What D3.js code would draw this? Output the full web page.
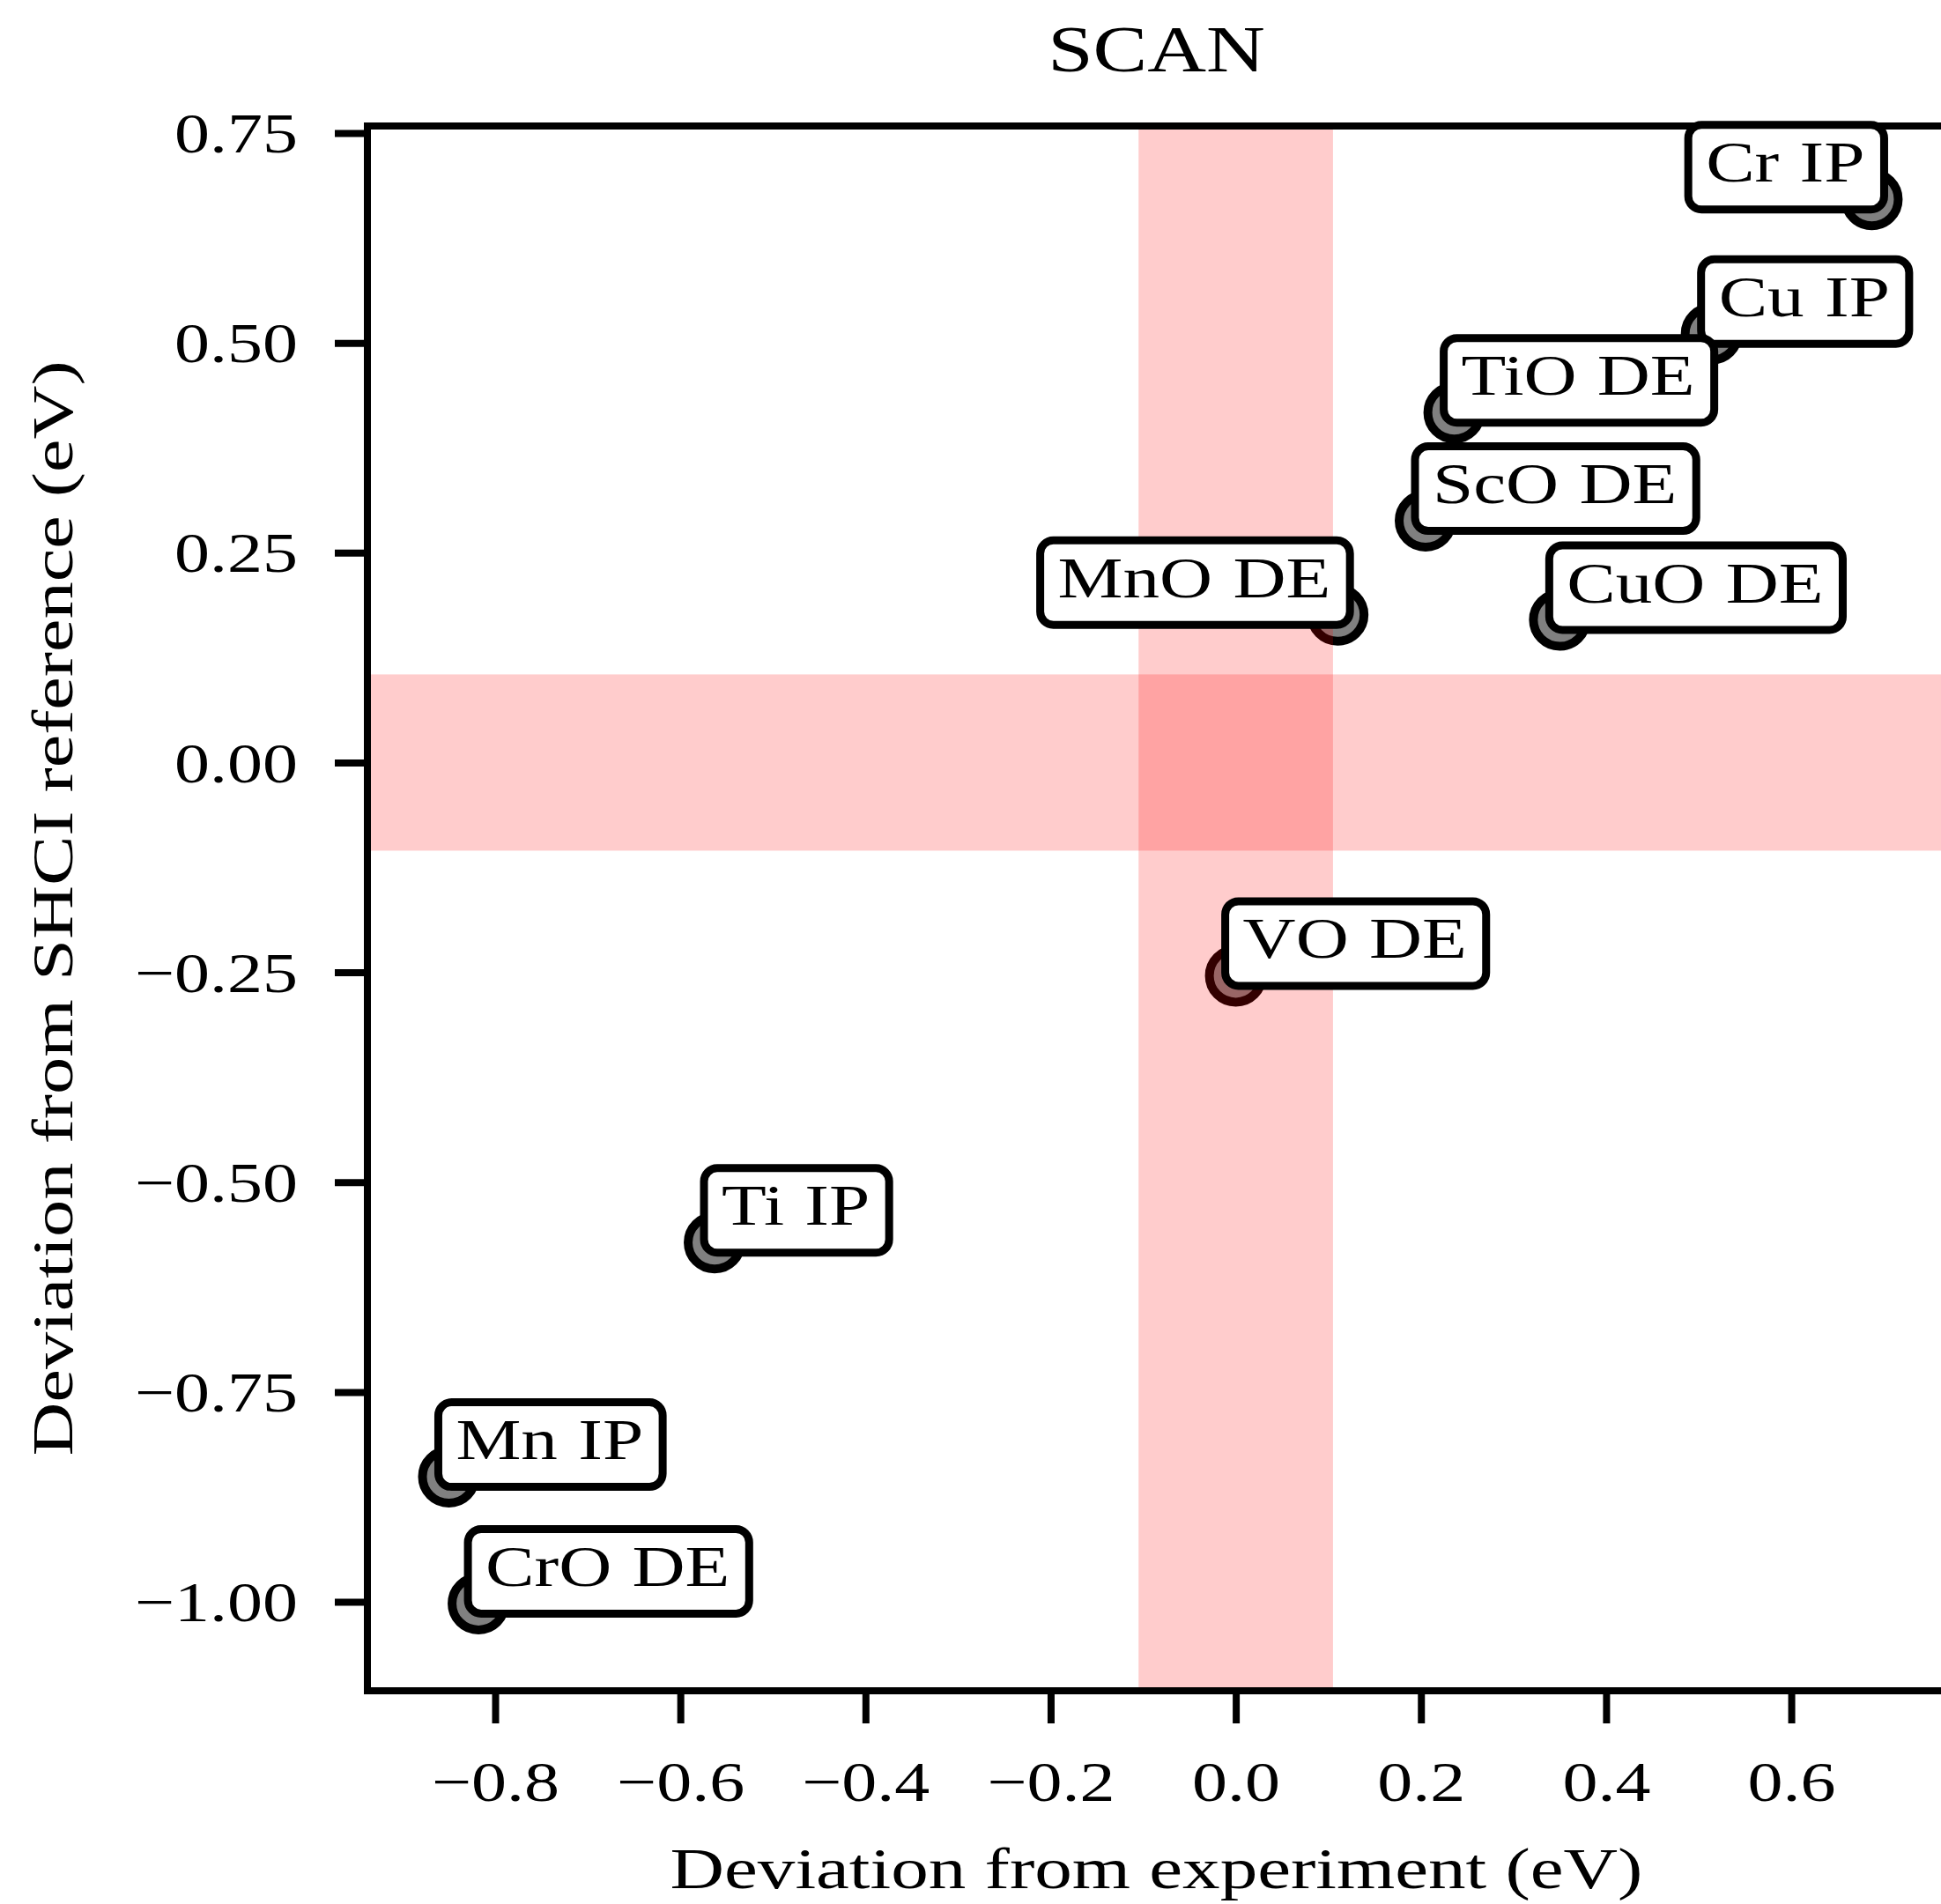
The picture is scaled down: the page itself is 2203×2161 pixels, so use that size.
<!DOCTYPE html>
<html>
<head>
<meta charset="utf-8">
<script src="https://cdn.jsdelivr.net/npm/d3@7"></script>
<style>
  body { margin: 0; background: #fff; }
  text { font-family: "Liberation Serif", "Times New Roman", serif; fill: #000; }
</style>
</head>
<body>
<svg id="chart" width="2203" height="2161"></svg>
<script>
// Systems and their SCAN deviations (eV)
const systems    = ["Cr IP", "Cu IP", "TiO DE", "ScO DE", "MnO DE", "CuO DE", "VO DE", "Ti IP", "Mn IP", "CrO DE"];
const devExp     = [0.687, 0.514, 0.236, 0.205, 0.110, 0.350, 0.000, -0.563, -0.850, -0.818];
const devSHCI    = [0.671, 0.511, 0.417, 0.288, 0.176, 0.170, -0.254, -0.572, -0.851, -1.002];
const labelSide  = ["left", "right", "right", "right", "left", "right", "right", "right", "right", "right"];

const xTicks = [-0.8, -0.6, -0.4, -0.2, 0.0, 0.2, 0.4, 0.6];
const yTicks = [0.75, 0.50, 0.25, 0.00, -0.25, -0.50, -0.75, -1.00];
const xDomain = [-0.938, 0.7665];
const yDomain = [-1.106, 0.7584];
const accuracyBand = 0.105;   // shaded window around zero on both axes

const titleText = "SCAN";
const xLabel = "Deviation from experiment (eV)";
const yLabel = "Deviation from SHCI reference (eV)";

// ---- layout ----
const plot = { left: 417, right: 2208, top: 143, bottom: 1919 };
const K = 1.25;             // horizontal widening of the serif glyphs
const svg = d3.select("#chart");

svg.append("rect").attr("width", 2203).attr("height", 2161).attr("fill", "#fff");

const x = d3.scaleLinear().domain(xDomain).range([plot.left, plot.right]);
const y = d3.scaleLinear().domain(yDomain).range([plot.bottom, plot.top]);

function wideText(g, px, py, str, size, anchor, rot, k = K) {
  return g.append("text")
    .attr("transform", `translate(${px},${py})${rot ? ` rotate(${rot})` : ""} scale(${k},1)`)
    .attr("font-size", size)
    .attr("text-anchor", anchor)
    .text(str);
}

const data = systems.map((name, i) => ({ name, dx: devExp[i], dy: devSHCI[i], side: labelSide[i] }));

// ---- markers ----
const gPts = svg.append("g");
gPts.selectAll("circle").data(data).join("circle")
  .attr("cx", d => x(d.dx))
  .attr("cy", d => y(d.dy))
  .attr("r", 30)
  .attr("fill", "#808080")
  .attr("stroke", "#000")
  .attr("stroke-width", 10);

// ---- shaded accuracy windows (drawn over the markers, translucent) ----
const gBand = svg.append("g");
gBand.append("rect")
  .attr("x", x(-accuracyBand)).attr("width", x(accuracyBand) - x(-accuracyBand))
  .attr("y", plot.top).attr("height", plot.bottom - plot.top)
  .attr("fill", "red").attr("fill-opacity", 0.2);
gBand.append("rect")
  .attr("x", plot.left).attr("width", plot.right - plot.left)
  .attr("y", y(accuracyBand)).attr("height", y(-accuracyBand) - y(accuracyBand))
  .attr("fill", "red").attr("fill-opacity", 0.2);

// ---- axes ----
const tickLen = 37;
const gx = svg.append("g").attr("transform", `translate(0,${plot.bottom})`)
  .call(d3.axisBottom(x).tickValues(xTicks).tickFormat(d3.format(".1f")).tickSize(tickLen));
gx.select(".domain").remove();
gx.selectAll(".tick line").attr("stroke", "#000").attr("stroke-width", 8);
gx.selectAll(".tick text")
  .attr("y", null).attr("dy", null)
  .attr("transform", `translate(0,125) scale(${K},1)`)
  .attr("font-size", 64).attr("font-family", "Liberation Serif").attr("fill", "#000");

const gy = svg.append("g").attr("transform", `translate(${plot.left},0)`)
  .call(d3.axisLeft(y).tickValues(yTicks).tickFormat(d3.format(".2f")).tickSize(tickLen));
gy.select(".domain").remove();
gy.selectAll(".tick line").attr("stroke", "#000").attr("stroke-width", 8);
gy.selectAll(".tick text")
  .attr("x", null).attr("dy", null)
  .attr("transform", `translate(-79,21.6) scale(${K},1)`)
  .attr("font-size", 64).attr("font-family", "Liberation Serif").attr("fill", "#000");

// ---- spines ----
const gSp = svg.append("g").attr("stroke", "#000").attr("stroke-width", 8).attr("stroke-linecap", "square");
gSp.append("line").attr("x1", plot.left).attr("x2", plot.right).attr("y1", plot.top).attr("y2", plot.top);
gSp.append("line").attr("x1", plot.left).attr("x2", plot.right).attr("y1", plot.bottom).attr("y2", plot.bottom);
gSp.append("line").attr("x1", plot.left).attr("x2", plot.left).attr("y1", plot.top).attr("y2", plot.bottom);
gSp.append("line").attr("x1", plot.right).attr("x2", plot.right).attr("y1", plot.top).attr("y2", plot.bottom);

// ---- annotation boxes ----
const fontLbl = 66.5, padL = 20, padR = 22, boxUp = 64.5, boxDown = 31.5;
const gLbl = svg.append("g");
data.forEach(d => {
  const px = x(d.dx), py = y(d.dy);
  const g = gLbl.append("g");
  const rect = g.append("rect");
  const baseline = py - 20;
  const t = wideText(g, 0, baseline, d.name, fontLbl, "start").attr("word-spacing", 2);
  const w = t.node().getComputedTextLength() * K;
  const start = d.side === "right" ? px + 8 : px - 8 - w;
  t.attr("transform", `translate(${start},${baseline}) scale(${K},1)`);
  rect.attr("x", start - padL).attr("y", baseline - boxUp)
    .attr("width", w + padL + padR).attr("height", boxUp + boxDown)
    .attr("rx", 15).attr("ry", 15)
    .attr("fill", "#fff").attr("stroke", "#000").attr("stroke-width", 9);
});

// ---- titles ----
const gT = svg.append("g");
const cx = (plot.left + plot.right) / 2;
wideText(gT, cx, 81, titleText, 74, "middle");
wideText(gT, cx, 2143, xLabel, 66, "middle", 0, 1.29);
wideText(gT, 82, (plot.top + plot.bottom) / 2, yLabel, 66, "middle", -90, 1.28);
</script>
</body>
</html>
